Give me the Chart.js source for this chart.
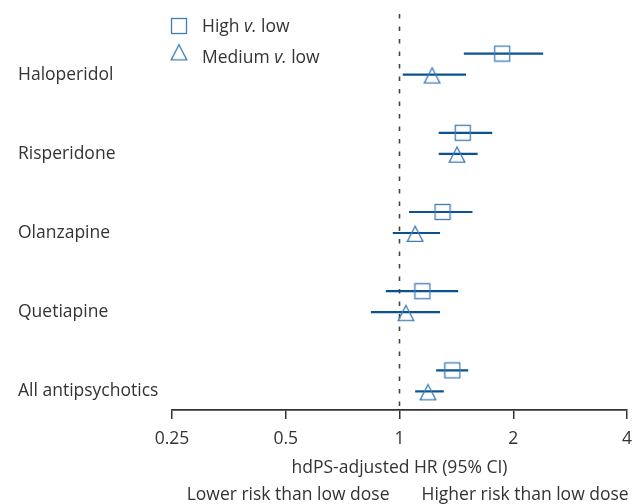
<!DOCTYPE html>
<html>
<head>
<meta charset="utf-8">
<script src="https://cdn.jsdelivr.net/npm/chart.js@4/dist/chart.umd.min.js"></script>
<style>
  html, body { margin: 0; padding: 0; background: #fff; }
  #wrap { width: 636px; height: 504px; position: relative; }
</style>
</head>
<body>
<div id="wrap"><canvas id="c" width="636" height="504"></canvas></div>
<script>
// ---- Data ----
const categories = ['Haloperidol', 'Risperidone', 'Olanzapine', 'Quetiapine', 'All antipsychotics'];
const highHR = [1.87, 1.47, 1.30, 1.15, 1.38];
const highLo = [1.48, 1.27, 1.06, 0.92, 1.25];
const highHi = [2.40, 1.76, 1.56, 1.43, 1.52];
const medHR  = [1.22, 1.42, 1.10, 1.04, 1.19];
const medLo  = [1.02, 1.27, 0.96, 0.84, 1.10];
const medHi  = [1.50, 1.61, 1.28, 1.28, 1.31];
const xTicks = [0.25, 0.5, 1, 2, 4];
const seriesNames = ['High', 'Medium'];

// ---- Style ----
const FONT = '"Open Sans", "Noto Sans", sans-serif';
const FS = 17.5;
const TEXT = '#333333';
const LINE_COL = '#0b5290';
const MARK_COL = '#3f7db8';
const SQ_OFF = 0.5, TRI_OFF = 0.765;

function makeSquare() {
  const c = document.createElement('canvas');
  c.width = 18; c.height = 18;
  const g = c.getContext('2d');
  g.strokeStyle = MARK_COL; g.lineWidth = 1.3;
  g.strokeRect(1.5, 1.5, 15, 15);
  return c;
}
function makeTriangle() {
  const c = document.createElement('canvas');
  c.width = 18; c.height = 20;
  const g = c.getContext('2d');
  g.strokeStyle = MARK_COL; g.lineWidth = 1.3; g.lineJoin = 'miter';
  g.beginPath();
  g.moveTo(9, 3.2); g.lineTo(16.8, 18.4); g.lineTo(1.2, 18.4); g.closePath();
  g.stroke();
  return c;
}
const sqImg = makeSquare();
const triImg = makeTriangle();

const datasets = [];
categories.forEach((c, i) => {
  datasets.push({ type: 'line', showLine: true, order: 2, borderColor: LINE_COL, borderWidth: 2.2,
    pointRadius: 0, data: [{x: highLo[i], y: i + SQ_OFF}, {x: highHi[i], y: i + SQ_OFF}] });
  datasets.push({ type: 'line', showLine: true, order: 2, borderColor: LINE_COL, borderWidth: 2.2,
    pointRadius: 0, data: [{x: medLo[i], y: i + TRI_OFF}, {x: medHi[i], y: i + TRI_OFF}] });
});
datasets.push({ label: seriesNames[0] + ' v. low', order: 0, pointStyle: sqImg, pointRadius: 8,
  data: highHR.map((v, i) => ({x: v, y: i + SQ_OFF})) });
datasets.push({ label: seriesNames[1] + ' v. low', order: 0, pointStyle: triImg, pointRadius: 8,
  data: medHR.map((v, i) => ({x: v, y: i + TRI_OFF})) });

const decorPlugin = {
  id: 'decor',
  beforeDatasetsDraw(chart) {
    const {ctx, chartArea, scales} = chart;
    const x1 = scales.x.getPixelForValue(1);
    ctx.save();
    ctx.strokeStyle = '#444';
    ctx.lineWidth = 1.6;
    ctx.setLineDash([4.5, 8]);
    ctx.beginPath();
    ctx.moveTo(x1, chartArea.top);
    ctx.lineTo(x1, chartArea.bottom);
    ctx.stroke();
    ctx.restore();
  },
  afterDraw(chart) {
    const {ctx, scales} = chart;
    const x1 = scales.x.getPixelForValue(1);
    ctx.save();
    ctx.font = FS + 'px ' + FONT;
    ctx.fillStyle = TEXT;
    ctx.textBaseline = 'alphabetic';
    // bottom direction labels
    ctx.textAlign = 'right';
    ctx.fillText('Lower risk than low dose', x1 - 10, 500);
    ctx.textAlign = 'left';
    ctx.fillText('Higher risk than low dose', x1 + 22, 500);
    // legend
    ctx.drawImage(sqImg, 179 - 9, 26 - 9);
    ctx.drawImage(triImg, 179 - 9, 51.5 - 10);
    const items = [[seriesNames[0], 202, 31.5], [seriesNames[1], 202, 63]];
    items.forEach(([name, x, y]) => {
      let cx = x;
      ctx.font = FS + 'px ' + FONT;
      ctx.fillText(name + ' ', cx, y); cx += ctx.measureText(name + ' ').width;
      ctx.font = 'italic ' + FS + 'px ' + FONT;
      ctx.fillText('v.', cx, y); cx += ctx.measureText('v.').width;
      ctx.font = FS + 'px ' + FONT;
      ctx.fillText(' low', cx, y);
    });
    ctx.restore();
  }
};

new Chart(document.getElementById('c'), {
  type: 'scatter',
  data: { datasets },
  options: {
    responsive: false,
    animation: false,
    layout: { padding: { left: 18, right: 9, top: 14, bottom: 0 } },
    plugins: { legend: { display: false }, tooltip: { enabled: false } },
    scales: {
      x: {
        type: 'logarithmic', min: 0.25, max: 4,
        afterBuildTicks: s => { s.ticks = xTicks.map(v => ({ value: v })); },
        afterFit: s => { s.height = 94; s.paddingLeft = 0; s.paddingRight = 0; },
        ticks: { callback: v => String(v), font: { size: FS, family: FONT }, color: TEXT, padding: 10, maxRotation: 0 },
        grid: { drawOnChartArea: false, drawTicks: true, tickLength: 9, color: '#333', lineWidth: 1.5 },
        border: { display: true, color: '#333', width: 1.8 },
        title: { display: true, text: 'hdPS-adjusted HR (95% CI)', font: { size: FS, family: FONT }, color: TEXT,
                 padding: { top: 0, bottom: 25 } }
      },
      y: {
        type: 'linear', min: 0, max: 5, reverse: true,
        afterBuildTicks: s => { s.ticks = categories.map((c, i) => ({ value: i + TRI_OFF })); },
        afterFit: s => { s.width = 154; },
        ticks: { callback: (v, idx) => categories[idx], crossAlign: 'far', font: { size: FS, family: FONT }, color: TEXT },
        grid: { display: false },
        border: { display: false }
      }
    }
  },
  plugins: [decorPlugin]
});
</script>
</body>
</html>
